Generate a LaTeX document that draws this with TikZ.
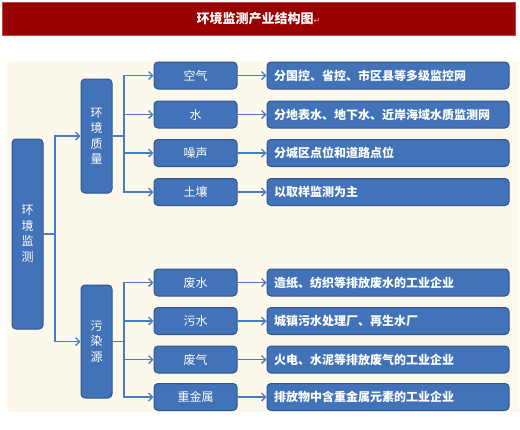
\documentclass[tikz,border=0pt]{standalone}
\usepackage{fontspec}
\setmainfont{Noto Sans CJK SC}
\newfontfamily\symfont{DejaVu Sans}
\usetikzlibrary{arrows.meta}
\definecolor{titlered}{HTML}{990000}
\definecolor{panelcol}{HTML}{FCF8EC}
\definecolor{boxblue}{HTML}{4273B8}
\definecolor{boxedge}{HTML}{2F5590}
\definecolor{linecol}{HTML}{4A7CC0}
\tikzset{
  box/.style={rectangle, rounded corners=4pt, fill=boxblue, draw=boxedge, line width=1pt,
    text=white, inner sep=0pt, font=\fontsize{12}{15.5}\selectfont, align=center},
  vbox/.style={box, minimum width=31pt},
  itembox/.style={box, minimum width=83pt, minimum height=27pt},
  descbox/.style={box, minimum height=27pt, text width=228pt, inner xsep=7pt, align=left,
    font=\fontsize{12}{15}\selectfont\bfseries},
  conn/.style={draw=linecol, line width=1.6pt},
  arr/.style={conn, -{Straight Barb[length=4pt,width=8pt,line width=1.4pt]}}
}
\begin{document}
\begin{tikzpicture}[x=1pt,y=-1pt]
\useasboundingbox (0,0) rectangle (520,429);
\fill[white] (0,0) rectangle (520,429);
% title
\node[fill=titlered, draw=titlered!70, line width=0.6pt, minimum width=513pt, minimum height=33pt, inner sep=0pt,
      text=white, font=\fontsize{13}{13}\selectfont\bfseries] (title) at (258.5,18.5)
      {环境监测产业结构图{\symfont\fontsize{8}{8}\selectfont\mdseries\color{red!35}↵}};
% panel
\fill[panelcol] (7,61) rectangle (519,412);
% vertical nodes
\node[vbox, minimum height=190pt] (root) at (27.5,234) {环\\境\\监\\测};
\node[vbox, minimum height=114pt] (q) at (96.5,136) {环\\境\\质\\量};
\node[vbox, minimum height=113pt] (p) at (96.5,341.5) {污\\染\\源};
% items
\node[itembox] (a1) at (195.5,75.5) {空气};
\node[itembox] (a2) at (195.5,114.5) {水};
\node[itembox] (a3) at (195.5,153) {噪声};
\node[itembox] (a4) at (195.5,192) {土壤};
\node[itembox] (b1) at (195.5,282.5) {废水};
\node[itembox] (b2) at (195.5,321) {污水};
\node[itembox] (b3) at (195.5,359.5) {废气};
\node[itembox] (b4) at (195.5,397) {重金属};
% descriptions
\node[descbox] (d1) at (388,75.5) {分国控、省控、市区县等多级监控网};
\node[descbox] (d2) at (388,114.5) {分地表水、地下水、近岸海域水质监测网};
\node[descbox] (d3) at (388,153) {分城区点位和道路点位};
\node[descbox] (d4) at (388,192) {以取样监测为主};
\node[descbox] (e1) at (388,282.5) {造纸、纺织等排放废水的工业企业};
\node[descbox] (e2) at (388,321) {城镇污水处理厂、再生水厂};
\node[descbox] (e3) at (388,359.5) {火电、水泥等排放废气的工业企业};
\node[descbox] (e4) at (388,397) {排放物中含重金属元素的工业企业};
% junctions
\coordinate (j1) at (55,234);
\coordinate (j2) at (124,136);
\coordinate (j3) at (124,341.5);
\draw[conn] (root.east) -- (j1);
\draw[arr] (j1) |- (q.west);
\draw[arr] (j1) |- (p.west);
\draw[conn] (q.east) -- (j2);
\draw[conn] (p.east) -- (j3);
\foreach \n in {a1,a2,a3,a4} {\draw[arr] (j2) |- (\n.west);}
\foreach \n in {b1,b2,b3,b4} {\draw[arr] (j3) |- (\n.west);}
\draw[arr] (a1) -- (d1);
\draw[arr] (a2) -- (d2);
\draw[arr] (a3) -- (d3);
\draw[arr] (a4) -- (d4);
\draw[arr] (b1) -- (e1);
\draw[arr] (b2) -- (e2);
\draw[arr] (b3) -- (e3);
\draw[arr] (b4) -- (e4);
\end{tikzpicture}
\end{document}
